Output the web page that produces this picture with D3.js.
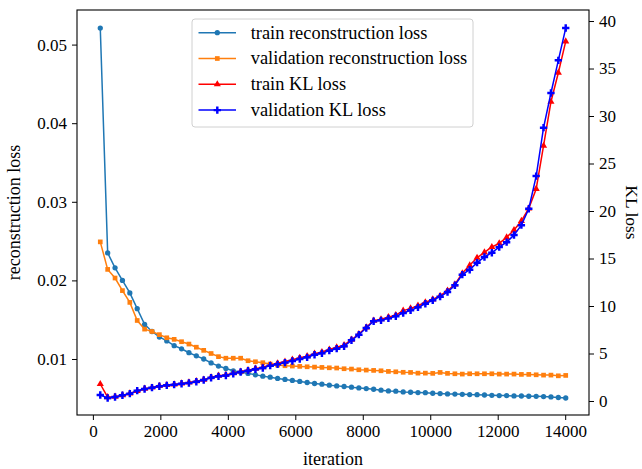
<!DOCTYPE html>
<meta charset="utf-8">
<style>
body { margin: 0; background: #fff; }
text { font-family: "Liberation Serif", "DejaVu Serif", serif; }
.axis .domain { display: none; }
</style>
<svg width="642" height="469"></svg>
<script src="https://d3js.org/d3.v7.min.js"></script>
<script>

// iteration number of each logged point
var iterations = [219, 438, 657, 876, 1095, 1314, 1533, 1752, 1971, 2190, 2409, 2628, 2847, 3066, 3285, 3504,
  3723, 3942, 4161, 4380, 4599, 4818, 5037, 5256, 5475, 5694, 5913, 6132, 6351, 6570, 6789, 7008,
  7227, 7446, 7665, 7884, 8103, 8322, 8541, 8760, 8979, 9198, 9417, 9636, 9855, 10074, 10293, 10512,
  10731, 10950, 11169, 11388, 11607, 11826, 12045, 12264, 12483, 12702, 12921, 13140, 13359, 13578, 13797, 14016];

var trainRecon = [0.0521, 0.0235, 0.0216, 0.0200, 0.0184, 0.0164, 0.0144, 0.0135, 0.0128, 0.0123, 0.0117, 0.0113, 0.0108, 0.0104, 0.0100, 0.0095,
  0.0091, 0.0088, 0.0085, 0.0083, 0.00817, 0.00799, 0.00782, 0.00769, 0.00753, 0.0074, 0.00727, 0.00714, 0.00701, 0.00688, 0.00679, 0.00667,
  0.00658, 0.0065, 0.00641, 0.00632, 0.00624, 0.00615, 0.00603, 0.00594, 0.0059, 0.00581, 0.00577, 0.00573, 0.00571, 0.00564, 0.0056, 0.00555,
  0.00554, 0.00551, 0.00547, 0.00546, 0.00542, 0.00538, 0.00535, 0.00534, 0.0053, 0.00529, 0.00526, 0.00525, 0.00522, 0.00517, 0.0051, 0.00504];

var valRecon = [0.0249, 0.0214, 0.0203, 0.0187, 0.0172, 0.0149, 0.0138, 0.0135, 0.0131, 0.0127, 0.0125, 0.0122, 0.0119, 0.0115, 0.0111, 0.0107,
  0.0103, 0.0101, 0.0101, 0.0101, 0.00978, 0.00965, 0.00953, 0.00936, 0.00923, 0.00914, 0.0091, 0.00906, 0.00901, 0.00897, 0.00893, 0.00888,
  0.00885, 0.00876, 0.00872, 0.00863, 0.00859, 0.00855, 0.0085, 0.00842, 0.00837, 0.00831, 0.00829, 0.0082, 0.0082, 0.00817, 0.00829, 0.00817,
  0.00812, 0.00808, 0.00812, 0.00812, 0.00812, 0.00812, 0.00808, 0.00808, 0.00808, 0.00804, 0.00804, 0.00799, 0.00795, 0.00795, 0.00786, 0.00791];

var trainKL = [1.79, 0.4, 0.45, 0.62, 0.8, 1.05, 1.3, 1.42, 1.58, 1.68, 1.75, 1.85, 1.95, 2.08, 2.25, 2.5,
  2.66, 2.75, 2.92, 3.1, 3.25, 3.4, 3.55, 3.8, 3.97, 4.15, 4.35, 4.55, 4.72, 4.98, 5.15, 5.42,
  5.65, 5.88, 6.45, 7.05, 7.75, 8.45, 8.6, 8.82, 9.05, 9.51, 9.75, 10.03, 10.39, 10.7, 11.08, 11.61,
  12.28, 13.44, 14.28, 15.08, 15.65, 16.21, 16.6, 17.23, 18.0, 18.95, 20.28, 22.32, 26.87, 31.5, 34.56, 37.86];

var valKL = [0.63, 0.32, 0.42, 0.6, 0.77, 1.09, 1.26, 1.4, 1.55, 1.65, 1.72, 1.82, 1.89, 2.03, 2.21, 2.45,
  2.6, 2.68, 2.86, 3.05, 3.19, 3.34, 3.47, 3.72, 3.86, 4.04, 4.21, 4.42, 4.6, 4.87, 5.02, 5.3,
  5.51, 5.76, 6.39, 6.98, 7.68, 8.39, 8.49, 8.7, 8.92, 9.25, 9.55, 9.86, 10.24, 10.6, 10.98, 11.47,
  12.18, 13.3, 13.82, 14.56, 15.16, 15.61, 16.2, 16.72, 17.47, 18.51, 20.24, 23.68, 28.77, 32.42, 35.86, 39.26];

var xTicks = [0, 2000, 4000, 6000, 8000, 10000, 12000, 14000];
var reconTicks = [0.01, 0.02, 0.03, 0.04, 0.05];
var klTicks = [0, 5, 10, 15, 20, 25, 30, 35, 40];

var series = [
  {name: "train reconstruction loss", values: trainRecon, color: "#1f77b4", marker: "dot", axis: "left"},
  {name: "validation reconstruction loss", values: valRecon, color: "#ff7f0e", marker: "square", axis: "left"},
  {name: "train KL loss", values: trainKL, color: "#ff0000", marker: "triangle", axis: "right"},
  {name: "validation KL loss", values: valKL, color: "#0000ff", marker: "plus", axis: "right"}
];

var svg = d3.select("svg"),
    margin = {top: 10, right: 53, bottom: 54, left: 77},
    width = +svg.attr("width") - margin.left - margin.right,
    height = +svg.attr("height") - margin.top - margin.bottom,
    g = svg.append("g").attr("transform", "translate(" + margin.left + "," + margin.top + ")");

var x = d3.scaleLinear().domain([-470.85, 14705.85]).range([0, width]);
var yL = d3.scaleLinear().domain([0.002875, 0.0544]).range([height, 0]);
var yR = d3.scaleLinear().domain([-1.474, 41.16]).range([height, 0]);

function symbolFor(m) {
  if (m == "dot") return d3.symbol().type(d3.symbolCircle).size(22);
  if (m == "square") return d3.symbol().type(d3.symbolSquare).size(22);
  if (m == "triangle") return d3.symbol().type(d3.symbolTriangle).size(22);
  return d3.symbol().type(d3.symbolCross).size(30);
}

var plot = g.append("g");

series.forEach(function(s) {
  var y = s.axis == "left" ? yL : yR;
  var line = d3.line()
      .x(function(d, i) { return x(iterations[i]); })
      .y(function(d) { return y(d); });

  var sg = plot.append("g");
  sg.append("path")
      .datum(s.values)
      .attr("fill", "none")
      .attr("stroke", s.color)
      .attr("stroke-width", 1.5)
      .attr("d", line);

  sg.selectAll("path.mk")
    .data(s.values)
    .enter().append("path")
      .attr("class", "mk")
      .attr("transform", function(d, i) { return "translate(" + x(iterations[i]) + "," + y(d) + ")"; })
      .attr("d", symbolFor(s.marker)())
      .attr("fill", s.color);
});

// axes
g.append("g")
    .attr("class", "axis")
    .attr("transform", "translate(0," + height + ")")
    .call(d3.axisBottom(x).tickValues(xTicks).tickFormat(d3.format("d")).tickSize(5).tickPadding(5));

g.append("g")
    .attr("class", "axis")
    .call(d3.axisLeft(yL).tickValues(reconTicks).tickFormat(d3.format(".2f")).tickSize(5).tickPadding(5));

g.append("g")
    .attr("class", "axis")
    .attr("transform", "translate(" + width + ",0)")
    .call(d3.axisRight(yR).tickValues(klTicks).tickFormat(d3.format("d")).tickSize(5).tickPadding(5));

g.selectAll(".axis text")
    .style("font-size", "17px")
    .style("font-family", "'Liberation Serif', serif")
    .attr("fill", "#000");
g.selectAll(".axis line").attr("stroke", "#000").attr("stroke-width", 1);

g.append("rect")
    .attr("width", width)
    .attr("height", height)
    .attr("fill", "none")
    .attr("stroke", "#000")
    .attr("stroke-width", 1.1);

// axis labels
svg.append("text")
    .attr("x", margin.left + width / 2)
    .attr("y", 465)
    .attr("text-anchor", "middle")
    .style("font-size", "18px")
    .text("iteration");

svg.append("text")
    .attr("transform", "translate(20," + (margin.top + height / 2) + ") rotate(-90)")
    .attr("text-anchor", "middle")
    .style("font-size", "18px")
    .text("reconstruction loss");

svg.append("text")
    .attr("transform", "translate(626," + (margin.top + height / 2) + ") rotate(90)")
    .attr("text-anchor", "middle")
    .style("font-size", "17.5px")
    .text("KL loss");

// legend
var legend = svg.append("g").attr("transform", "translate(192,19)");
legend.append("rect")
    .attr("width", 281)
    .attr("height", 108)
    .attr("rx", 3)
    .attr("fill", "#fff")
    .attr("fill-opacity", 0.8)
    .attr("stroke", "#d0d0d0")
    .attr("stroke-width", 1);

var item = legend.selectAll("g.item")
    .data(series)
    .enter().append("g")
      .attr("class", "item")
      .attr("transform", function(d, i) { return "translate(0," + (13.7 + i * 25.8) + ")"; });

item.append("line")
    .attr("x1", 6.5).attr("x2", 44)
    .attr("stroke", function(d) { return d.color; })
    .attr("stroke-width", 1.5);

item.append("path")
    .attr("transform", "translate(25.3,0)")
    .attr("d", function(d) { return symbolFor(d.marker)(); })
    .attr("fill", function(d) { return d.color; });

item.append("text")
    .attr("x", 58.7)
    .attr("dy", "0.32em")
    .style("font-size", "18.4px")
    .text(function(d) { return d.name; });

</script>
